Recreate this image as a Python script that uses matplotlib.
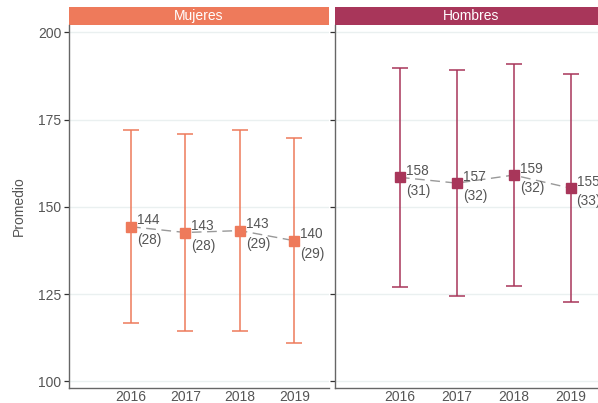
import matplotlib
matplotlib.use("Agg")
from matplotlib import pyplot as plt
from matplotlib.patches import Rectangle

plt.rcParams['font.family'] = ['Liberation Sans', 'DejaVu Sans']

years = [2016, 2017, 2018, 2019]
panels = ["Mujeres", "Hombres"]
colors = {"Mujeres": "#EE7A5B", "Hombres": "#A8365A"}

# promedio y desviación estándar por año
mean_mujeres = [144.3, 142.65, 143.2, 140.3]
sd_mujeres = [27.7, 28.25, 28.8, 29.3]
mean_hombres = [158.45, 156.8, 159.1, 155.35]
sd_hombres = [31.45, 32.4, 31.7, 32.75]

data = {
    "Mujeres": (mean_mujeres, sd_mujeres),
    "Hombres": (mean_hombres, sd_hombres),
}

fig = plt.figure(figsize=(5.98, 4.03), dpi=100)
W, H = 598, 403
boxes = [(69, 260), (335, 272)]
top, bottom = 25, 388
text_col = "#555555"

for i, name in enumerate(panels):
    x0, w = boxes[i]
    ax = fig.add_axes([x0 / W, (H - bottom) / H, w / W, (bottom - top) / H])
    mean, sd = data[name]
    col = colors[name]

    ax.errorbar(years, mean, yerr=sd, fmt='none', ecolor=col, elinewidth=1.1,
                capsize=6, capthick=1.1, zorder=2)
    ax.plot(years, mean, linestyle=(0, (7, 4)), color="#999999", lw=1.0, zorder=3)
    ax.plot(years, mean, linestyle='none', marker='s', markersize=7.5,
            color=col, zorder=4)
    for x, m, s in zip(years, mean, sd):
        ax.annotate(f"{m:.0f}\n({s:.0f})", (x, m), xytext=(4.3, -2.5),
                    textcoords='offset points', ha='left', va='center',
                    fontsize=9.8, color=text_col, linespacing=1.5,
                    annotation_clip=False, zorder=5)

    ax.set_xlim(2014.86, 2019.64)
    ax.set_ylim(98.1, 202.1)
    ax.set_yticks([100, 125, 150, 175, 200])
    ax.set_xticks(years)
    ax.set_xticklabels([str(y) for y in years])
    ax.grid(axis='y', color="#EAF0F0", lw=1.0)
    ax.set_axisbelow(True)
    for s in ['top', 'right']:
        ax.spines[s].set_visible(False)
    for s in ['left', 'bottom']:
        ax.spines[s].set_color("#666666")
        ax.spines[s].set_linewidth(1.0)
    ax.tick_params(axis='x', length=0, pad=1.5, labelsize=10, labelcolor=text_col)
    ax.tick_params(axis='y', length=3.5, width=0.9, color="#333333",
                   labelsize=10, labelcolor=text_col, pad=2)
    if i == 0:
        ax.set_ylabel("Promedio", fontsize=10, color=text_col, labelpad=9)
    else:
        ax.tick_params(axis='y', labelleft=False)

    # cabecera del panel
    sh = 18 / (bottom - top)
    ax.add_patch(Rectangle((0, 1.0), 1, sh, transform=ax.transAxes,
                           facecolor=col, edgecolor='none', clip_on=False))
    ax.text(0.5, 1.0 + sh / 2, name, transform=ax.transAxes, ha='center',
            va='center', color='white', fontsize=10)

fig.savefig("out.png", dpi=100)
